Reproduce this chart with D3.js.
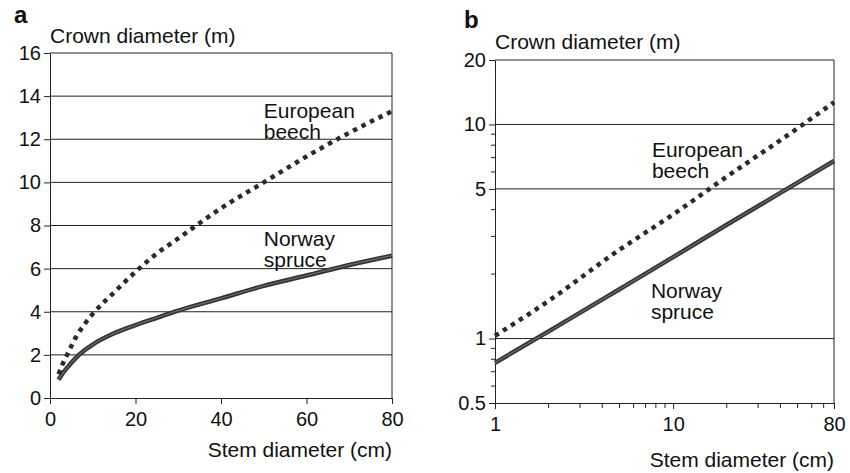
<!DOCTYPE html>
<html>
<head>
<meta charset="utf-8">
<script src="https://cdn.jsdelivr.net/npm/d3@7"></script>
<style>
  body { margin: 0; background: #fff; }
  svg text { font-family: "Liberation Sans", Arial, Helvetica, sans-serif; fill: #111; }
</style>
</head>
<body>
<svg id="chart" width="850" height="473"></svg>
<script>
// ---- panel a (linear axes) ----
const stemA   = [2, 3, 4, 6, 8, 10, 15, 20, 25, 30, 40, 50, 60, 70, 80];
const beechA  = [1.1, 1.6, 2.0, 2.8, 3.4, 3.9, 4.9, 5.85, 6.7, 7.4, 8.8, 10.0, 11.2, 12.3, 13.3];
const spruceA = [0.85, 1.15, 1.4, 1.85, 2.2, 2.48, 3.0, 3.38, 3.72, 4.05, 4.62, 5.2, 5.68, 6.17, 6.6];
const ticksAy = [0, 2, 4, 6, 8, 10, 12, 14, 16];
const ticksAx = [0, 20, 40, 60, 80];

// ---- panel b (log-log axes) ----
const stemB   = [1, 2, 5, 10, 20, 50, 80];
const beechB  = [1.03, 1.5, 2.6, 3.8, 5.7, 9.6, 12.7];
const spruceB = [0.77, 1.08, 1.7, 2.4, 3.4, 5.35, 6.75];
const ticksBy = [0.5, 1, 5, 10, 20];
const minorBy = [0.6, 0.7, 0.8, 0.9, 2, 3, 4, 6, 7, 8, 9];
const ticksBx = [1, 10, 80];
const minorBx = [2, 3, 4, 5, 6, 7, 8, 9, 20, 30, 40, 50, 60, 70];

const svg = d3.select("#chart");

function drawPanel(o) {
  const g = svg.append("g");
  const x = o.x, y = o.y;
  const [x0, x1] = x.range();
  const [y0, y1] = y.range(); // y0 bottom, y1 top

  // horizontal grid lines
  g.selectAll(".grid").data(o.grid).enter().append("line")
    .attr("x1", x0).attr("x2", x1)
    .attr("y1", d => y(d)).attr("y2", d => y(d))
    .attr("stroke", "#222").attr("stroke-width", 1);

  // right border
  g.append("line").attr("x1", x1).attr("x2", x1).attr("y1", y0).attr("y2", y1)
    .attr("stroke", "#222").attr("stroke-width", 1);

  // minor ticks
  if (o.minorX) {
    g.selectAll(".mx").data(o.minorX).enter().append("line")
      .attr("x1", d => x(d)).attr("x2", d => x(d))
      .attr("y1", y0).attr("y2", y0 + 5)
      .attr("stroke", "#222");
  }
  if (o.minorY) {
    g.selectAll(".my").data(o.minorY).enter().append("line")
      .attr("x1", x0 - 4).attr("x2", x0)
      .attr("y1", d => y(d)).attr("y2", d => y(d))
      .attr("stroke", "#222");
  }

  const ax = g.append("g").attr("transform", `translate(0,${y0})`)
    .call(d3.axisBottom(x).tickValues(o.ticksX).tickFormat(d3.format("")).tickSize(6).tickPadding(8).tickSizeOuter(0));
  const ay = g.append("g").attr("transform", `translate(${x0},0)`)
    .call(d3.axisLeft(y).tickValues(o.ticksY).tickFormat(d3.format("")).tickSize(6).tickPadding(3).tickSizeOuter(0));
  [ax, ay].forEach(a => {
    a.selectAll("path,line").attr("stroke", "#222");
    a.selectAll("text").style("font-size", "20px").attr("fill", "#111");
  });

  // curves
  const line = d3.line().x(d => x(d[0])).y(d => y(d[1])).curve(d3.curveMonotoneX);
  const beech = o.stem.map((s, i) => [s, o.beech[i]]);
  const spruce = o.stem.map((s, i) => [s, o.spruce[i]]);

  g.append("path").attr("d", line(spruce)).attr("fill", "none")
    .attr("stroke", "#333").attr("stroke-width", 4.5);
  g.append("path").attr("d", line(spruce)).attr("fill", "none")
    .attr("stroke", "#6a6a6a").attr("stroke-width", 1.2);
  g.append("path").attr("d", line(beech)).attr("fill", "none")
    .attr("stroke", "#2a2a2a").attr("stroke-width", 4.5)
    .attr("stroke-dasharray", "4.5,5");

  // panel letter and axis titles
  g.append("text").attr("x", o.letter[0]).attr("y", o.letter[1])
    .style("font-size", "24px").style("font-weight", "bold").text(o.name);
  g.append("text").attr("x", x0).attr("y", o.yTitleY)
    .style("font-size", "21px").text("Crown diameter (m)");
  g.append("text").attr("x", x1).attr("y", o.xTitleY).attr("text-anchor", "end")
    .style("font-size", "21px").text("Stem diameter (cm)");

  // series labels
  o.labels.forEach(l => {
    const t = g.append("text").attr("x", x(l.at[0])).attr("y", y(l.at[1]))
      .style("font-size", "21px");
    l.lines.forEach((s, i) => {
      t.append("tspan").attr("x", x(l.at[0])).attr("dy", i ? l.lh : 0).text(s);
    });
  });
}

drawPanel({
  name: "a",
  x: d3.scaleLinear().domain([0, 80]).range([50, 392]),
  y: d3.scaleLinear().domain([0, 16]).range([398, 53]),
  grid: ticksAy.slice(1),
  ticksX: ticksAx, ticksY: ticksAy,
  stem: stemA, beech: beechA, spruce: spruceA,
  letter: [14, 23], yTitleY: 43, xTitleY: 457,
  labels: [
    { at: [50, 13.0], lines: ["European", "beech"], lh: 21 },
    { at: [50, 7.05], lines: ["Norway", "spruce"], lh: 21 }
  ]
});

drawPanel({
  name: "b",
  x: d3.scaleLog().domain([1, 80]).range([495, 834]),
  y: d3.scaleLog().domain([0.5, 20]).range([403, 60]),
  grid: ticksBy.slice(1),
  ticksX: ticksBx, ticksY: ticksBy,
  minorX: minorBx, minorY: minorBy,
  stem: stemB, beech: beechB, spruce: spruceB,
  letter: [464, 28], yTitleY: 49, xTitleY: 467,
  labels: [
    { at: [7.6, 7.05], lines: ["European", "beech"], lh: 21 },
    { at: [7.5, 1.54], lines: ["Norway", "spruce"], lh: 21 }
  ]
});
</script>
</body>
</html>
